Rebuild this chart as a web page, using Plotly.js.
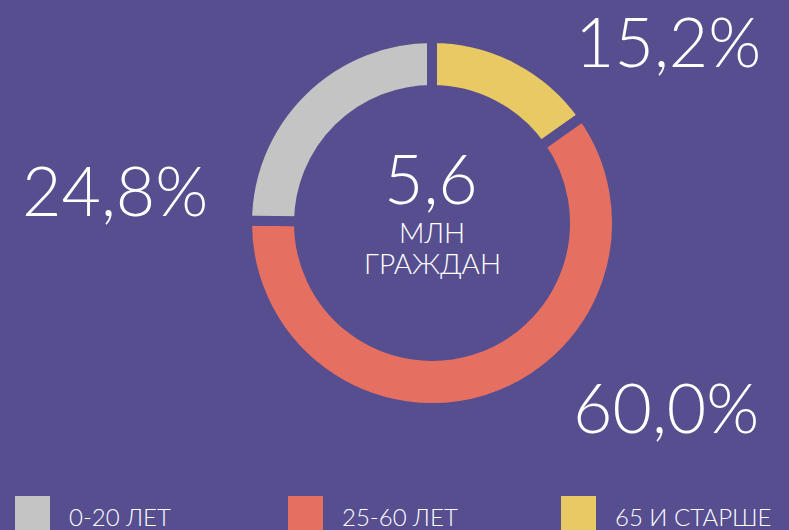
<!DOCTYPE html>
<html><head><meta charset="utf-8">
<script src="https://cdn.plot.ly/plotly-3.0.1.min.js"></script>
<style>html,body{margin:0;padding:0;background:#564e8f;}#chart{width:789px;height:530px;}</style>
</head><body><div id="chart"></div>
<script>
// Data (slice order: clockwise from 12 o'clock)
const sliceLabels = ["65 И СТАРШЕ", "25-60 ЛЕТ", "0-20 ЛЕТ"];
const sliceValues = [15.2, 60.0, 24.8];
const sliceColors = ["#e9c964", "#e57062", "#c4c4c4"];
// Legend order
const legendLabels = ["0-20 ЛЕТ", "25-60 ЛЕТ", "65 И СТАРШЕ"];
const legendColors = ["#c4c4c4", "#e57062", "#e9c964"];
const totalText = "5,6";
const totalUnit = ["МЛН", "ГРАЖДАН"];

const W = 789, H = 530;
const bg = "#564e8f";
const font = "Lato, 'Open Sans', sans-serif";
const px = x => x / W;
const py = y => 1 - y / H;

const fmt = v => v.toFixed(1).replace(".", ",") + "%";

// label positions for percentages (pixel centers)
const pctPos = [[668, 41], [666, 406], [115, 189]];

const annotations = [];
sliceValues.forEach((v, i) => {
  annotations.push({
    text: fmt(v), x: px(pctPos[i][0]), y: py(pctPos[i][1]), xref: "paper", yref: "paper",
    xanchor: "center", yanchor: "middle", showarrow: false,
    font: {family: font, size: 68, color: "#ffffff", weight: 300}
  });
});
annotations.push({text: totalText, x: px(431), y: py(177), xref: "paper", yref: "paper",
  xanchor: "center", yanchor: "middle", showarrow: false,
  font: {family: font, size: 68, color: "#ffffff", weight: 300}});
annotations.push({text: totalUnit[0], x: px(432), y: py(232), xref: "paper", yref: "paper",
  xanchor: "center", yanchor: "middle", showarrow: false,
  font: {family: font, size: 28, color: "#ffffff", weight: 300}});
annotations.push({text: totalUnit[1], x: px(432), y: py(263), xref: "paper", yref: "paper",
  xanchor: "center", yanchor: "middle", showarrow: false,
  font: {family: font, size: 28, color: "#ffffff", weight: 300}});

const legX = [15, 288, 561];
const shapes = [];
legendLabels.forEach((l, i) => {
  shapes.push({type: "rect", xref: "paper", yref: "paper",
    x0: px(legX[i]), x1: px(legX[i] + 35), y0: py(540), y1: py(496),
    fillcolor: legendColors[i], line: {width: 0}});
  annotations.push({text: l, x: px(legX[i] + 52), y: py(516), xref: "paper", yref: "paper",
    xanchor: "left", yanchor: "middle", showarrow: false,
    font: {family: font, size: 24, color: "#ffffff", weight: 300}});
});

const cx = 432, cy = 223, r = 185;
const trace = {
  type: "pie",
  labels: sliceLabels,
  values: sliceValues,
  sort: false,
  direction: "clockwise",
  rotation: 0,
  hole: 133 / 185,
  marker: {colors: sliceColors, line: {color: bg, width: 10}},
  textinfo: "none",
  hoverinfo: "none",
  showlegend: false,
  domain: {x: [px(cx - r), px(cx + r)], y: [py(cy + r), py(cy - r)]}
};

Plotly.newPlot("chart", [trace], {
  width: W, height: H,
  margin: {l: 0, r: 0, t: 0, b: 0},
  paper_bgcolor: bg, plot_bgcolor: bg,
  showlegend: false,
  annotations: annotations,
  shapes: shapes
}, {displayModeBar: false, staticPlot: true});
</script>
</body></html>
